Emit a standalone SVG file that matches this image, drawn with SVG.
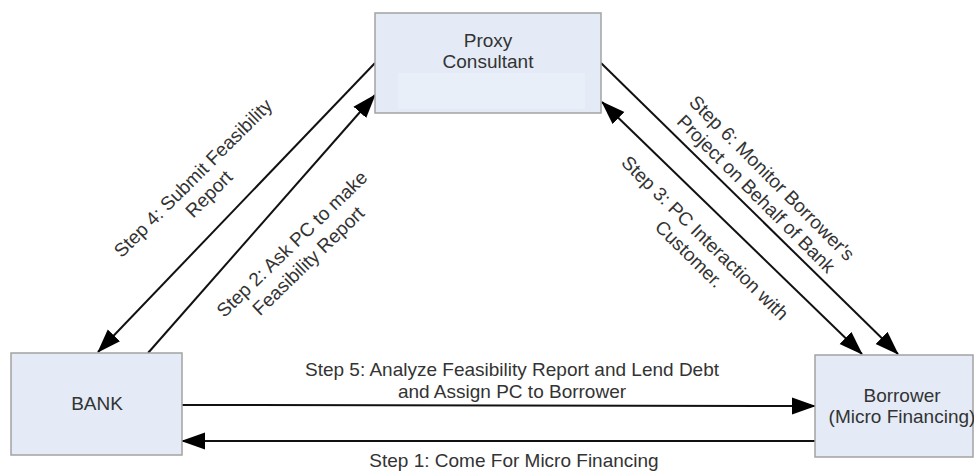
<svg xmlns="http://www.w3.org/2000/svg" width="974" height="474" viewBox="0 0 974 474">
<style>
.box{fill:#e4ebf6;stroke:#a3a3a3;stroke-width:1.5}
.inner{fill:#e9eff8}
.t{font-family:"Liberation Sans",Arial,sans-serif;font-size:19px;fill:#333;text-anchor:middle}
.c{stroke:#111;stroke-width:2;fill:none}
</style>
<defs>
<marker id="ah" markerUnits="userSpaceOnUse" markerWidth="24" markerHeight="18" refX="23" refY="8.5" orient="auto-start-reverse" viewBox="0 0 24 17">
<path d="M0,0 L24,8.5 L0,17 z" fill="#000"/>
</marker>
</defs>
<rect width="974" height="474" fill="#fff"/>
<g id="connectors">
<line class="c" x1="182" y1="405" x2="815" y2="406" marker-end="url(#ah)"/>
<line class="c" x1="815" y1="441" x2="182" y2="441" marker-end="url(#ah)"/>
<line class="c" x1="375" y1="63" x2="98" y2="352" marker-end="url(#ah)"/>
<line class="c" x1="148" y1="353" x2="375" y2="95" marker-end="url(#ah)"/>
<line class="c" x1="862" y1="354" x2="602" y2="102" marker-start="url(#ah)" marker-end="url(#ah)"/>
<line class="c" x1="601" y1="63" x2="898" y2="354" marker-end="url(#ah)"/>
<text class="t" x="512" y="376">Step 5: Analyze Feasibility Report and Lend Debt</text>
<text class="t" x="512" y="398">and Assign PC to Borrower</text>
<text class="t" x="514" y="467">Step 1: Come For Micro Financing</text>
<g transform="translate(193,178) rotate(-45)">
<text class="t" x="0" y="6.5">Step 4: Submit Feasibility</text>
<text class="t" x="0" y="29">Report</text>
</g>
<g transform="translate(292,244) rotate(-44)">
<text class="t" x="0" y="6.5">Step 2: Ask PC  to make</text>
<text class="t" x="0" y="30">Feasibility Report</text>
</g>
<g transform="translate(705,238) rotate(44.5)">
<text class="t" x="0" y="6.5">Step 3: PC Interaction with</text>
<text class="t" x="0" y="29">Customer.</text>
</g>
<g transform="translate(772,178) rotate(45)">
<text class="t" x="0" y="6.5">Step 6: Monitor Borrower's</text>
<text class="t" x="0" y="29">Project on Behalf of Bank</text>
</g>
</g>
<g id="proxy">
<rect class="box" x="375" y="13" width="226" height="100"/>
<rect class="inner" x="398" y="73" width="187" height="36"/>
<text class="t" x="488" y="47">Proxy</text>
<text class="t" x="488" y="68">Consultant</text>
</g>
<g id="bank">
<rect class="box" x="11" y="353" width="171" height="102"/>
<text class="t" x="97" y="410">BANK</text>
</g>
<g id="borrower">
<rect class="box" x="815" y="355" width="158" height="102"/>
<text class="t" x="902" y="402">Borrower</text>
<text class="t" x="902" y="423">(Micro Financing)</text>
</g>
</svg>
